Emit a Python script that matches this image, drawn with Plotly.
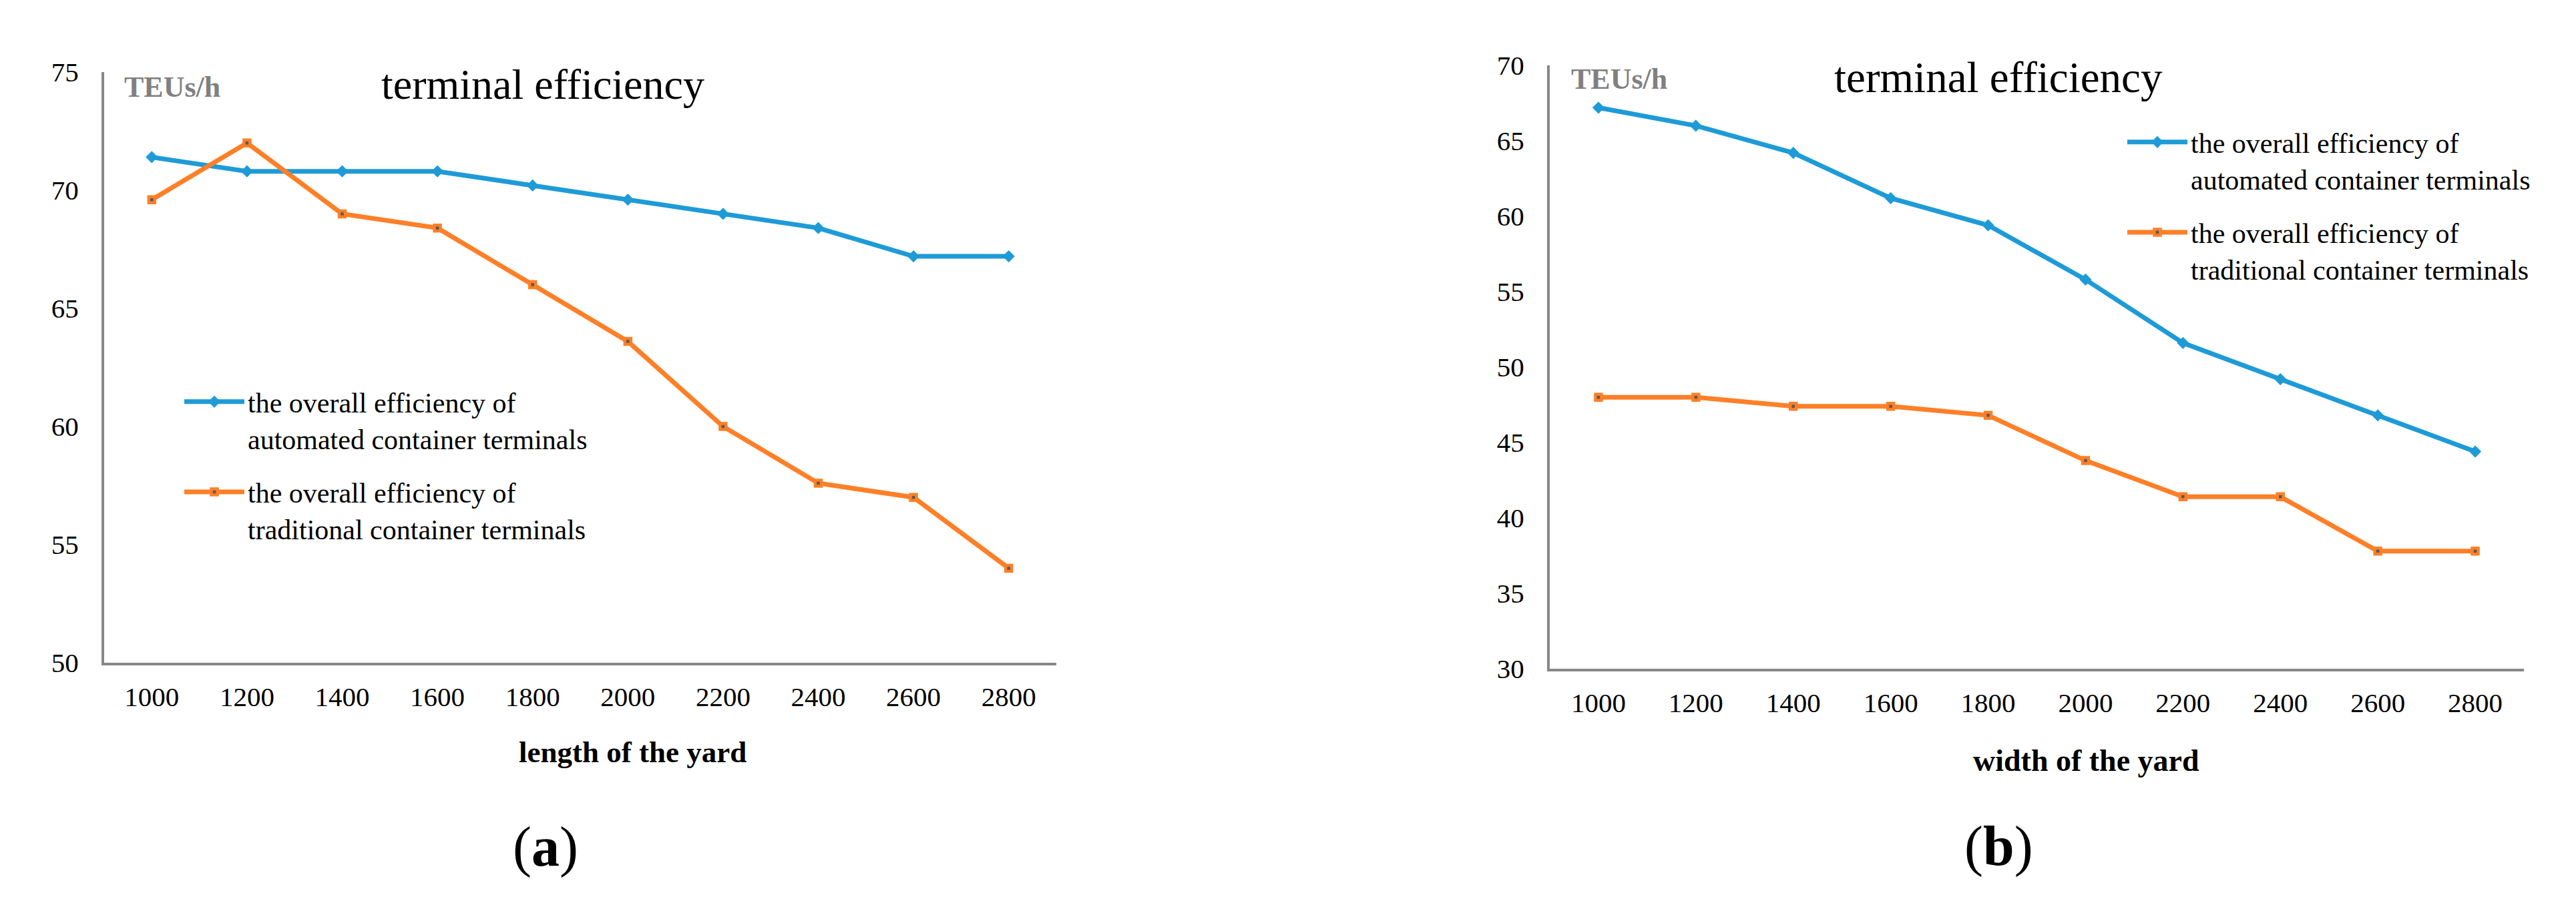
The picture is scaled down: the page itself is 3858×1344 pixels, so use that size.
import plotly.graph_objects as go

# ---------------- data ----------------
yard_sizes = [1000, 1200, 1400, 1600, 1800, 2000, 2200, 2400, 2600, 2800]
x_tick_labels = ["1000", "1200", "1400", "1600", "1800", "2000", "2200", "2400", "2600", "2800"]

length_automated = [71.4, 70.8, 70.8, 70.8, 70.2, 69.6, 69.0, 68.4, 67.2, 67.2]
length_traditional = [69.6, 72.0, 69.0, 68.4, 66.0, 63.6, 60.0, 57.6, 57.0, 54.0]

width_automated = [67.2, 66.0, 64.2, 61.2, 59.4, 55.8, 51.6, 49.2, 46.8, 44.4]
width_traditional = [48.0, 48.0, 47.4, 47.4, 46.8, 43.8, 41.4, 41.4, 37.8, 37.8]

y_ticks_a = [50, 55, 60, 65, 70, 75]
y_ticks_b = [30, 35, 40, 45, 50, 55, 60, 65, 70]

name_automated = "the overall efficiency of<br>automated container terminals"
name_traditional = "the overall efficiency of<br>traditional container terminals"

# ---------------- style ----------------
W, H = 3858, 1344
BLUE = "#1E9BD7"
ORANGE = "#FF7F27"
AXIS_GRAY = "#878787"
SERIF = "Liberation Serif, Times New Roman, serif"


def px_x(p):
    return p / W


def px_y(p):
    return 1 - p / H


fig = go.Figure()


def add_pair(auto_vals, trad_vals, xa, ya, legend):
    fig.add_trace(go.Scatter(
        x=yard_sizes, y=auto_vals, xaxis=xa, yaxis=ya, legend=legend,
        name=name_automated, mode="lines+markers", legendgroup=legend + "a",
        line=dict(color=BLUE, width=7),
        marker=dict(symbol="diamond", size=14, color=BLUE, line=dict(width=0)),
    ))
    fig.add_trace(go.Scatter(
        x=yard_sizes, y=trad_vals, xaxis=xa, yaxis=ya, legend=legend,
        name=name_traditional, mode="lines+markers", legendgroup=legend + "b",
        line=dict(color=ORANGE, width=7),
        marker=dict(symbol="square", size=9, color="#595959",
                    line=dict(width=4.5, color=ORANGE)),
    ))


add_pair(length_automated, length_traditional, "x", "y", "legend")
add_pair(width_automated, width_traditional, "x2", "y2", "legend2")

axis_common = dict(
    showline=True, linecolor=AXIS_GRAY, linewidth=4, showgrid=False,
    zeroline=False, ticks="", mirror=False, automargin=False,
    tickfont=dict(family=SERIF, size=41, color="black"),
)

legend_common = dict(
    xanchor="left", yanchor="top",
    font=dict(family=SERIF, size=42, color="black"),
    bgcolor="rgba(0,0,0,0)", itemwidth=90, valign="top",
    tracegroupgap=23, traceorder="grouped",
)

fig.update_layout(
    width=W, height=H,
    margin=dict(l=0, r=0, t=0, b=0, pad=0, autoexpand=False),
    paper_bgcolor="white", plot_bgcolor="white",
    xaxis=dict(domain=[px_x(148), px_x(1574)], anchor="y", range=[900, 2900],
               tickvals=yard_sizes, ticktext=x_tick_labels,
               ticklabelstandoff=12, **axis_common),
    yaxis=dict(domain=[px_y(985), px_y(100)], anchor="x", range=[50, 75],
               tickvals=y_ticks_a, ticklabelstandoff=26, **axis_common),
    xaxis2=dict(domain=[px_x(2313), px_x(3772)], anchor="y2", range=[900, 2900],
                tickvals=yard_sizes, ticktext=x_tick_labels,
                ticklabelstandoff=12, **axis_common),
    yaxis2=dict(domain=[px_y(994), px_y(90)], anchor="x2", range=[30, 70],
                tickvals=y_ticks_b, ticklabelstandoff=26, **axis_common),
    showlegend=True,
    legend=dict(x=px_x(263), y=px_y(560), **legend_common),
    legend2=dict(x=px_x(3173), y=px_y(171), **legend_common),
)

annotations = [
    dict(text="terminal efficiency", x=px_x(805), y=px_y(119),
         font=dict(family=SERIF, size=64, color="black")),
    dict(text="terminal efficiency", x=px_x(2985), y=px_y(108),
         font=dict(family=SERIF, size=65, color="black")),
    dict(text="<b>TEUs/h</b>", x=px_x(176), y=px_y(123), xanchor="left",
         font=dict(family=SERIF, size=44, color="#808080")),
    dict(text="<b>TEUs/h</b>", x=px_x(2343), y=px_y(111), xanchor="left",
         font=dict(family=SERIF, size=44, color="#808080")),
    dict(text="<b>length of the yard</b>", x=px_x(939), y=px_y(1119),
         font=dict(family=SERIF, size=45, color="black")),
    dict(text="<b>width of the yard</b>", x=px_x(3116), y=px_y(1131),
         font=dict(family=SERIF, size=46, color="black")),
    dict(text="(<b>a</b>)", x=px_x(809), y=px_y(1261),
         font=dict(family=SERIF, size=84, color="black")),
    dict(text="(<b>b</b>)", x=px_x(2985), y=px_y(1260),
         font=dict(family=SERIF, size=84, color="black")),
]
for a in annotations:
    a.setdefault("xanchor", "center")
    a["yanchor"] = "middle"
    a["xref"] = "paper"
    a["yref"] = "paper"
    a["showarrow"] = False
fig.update_layout(annotations=annotations)

fig.write_html("out.html")
